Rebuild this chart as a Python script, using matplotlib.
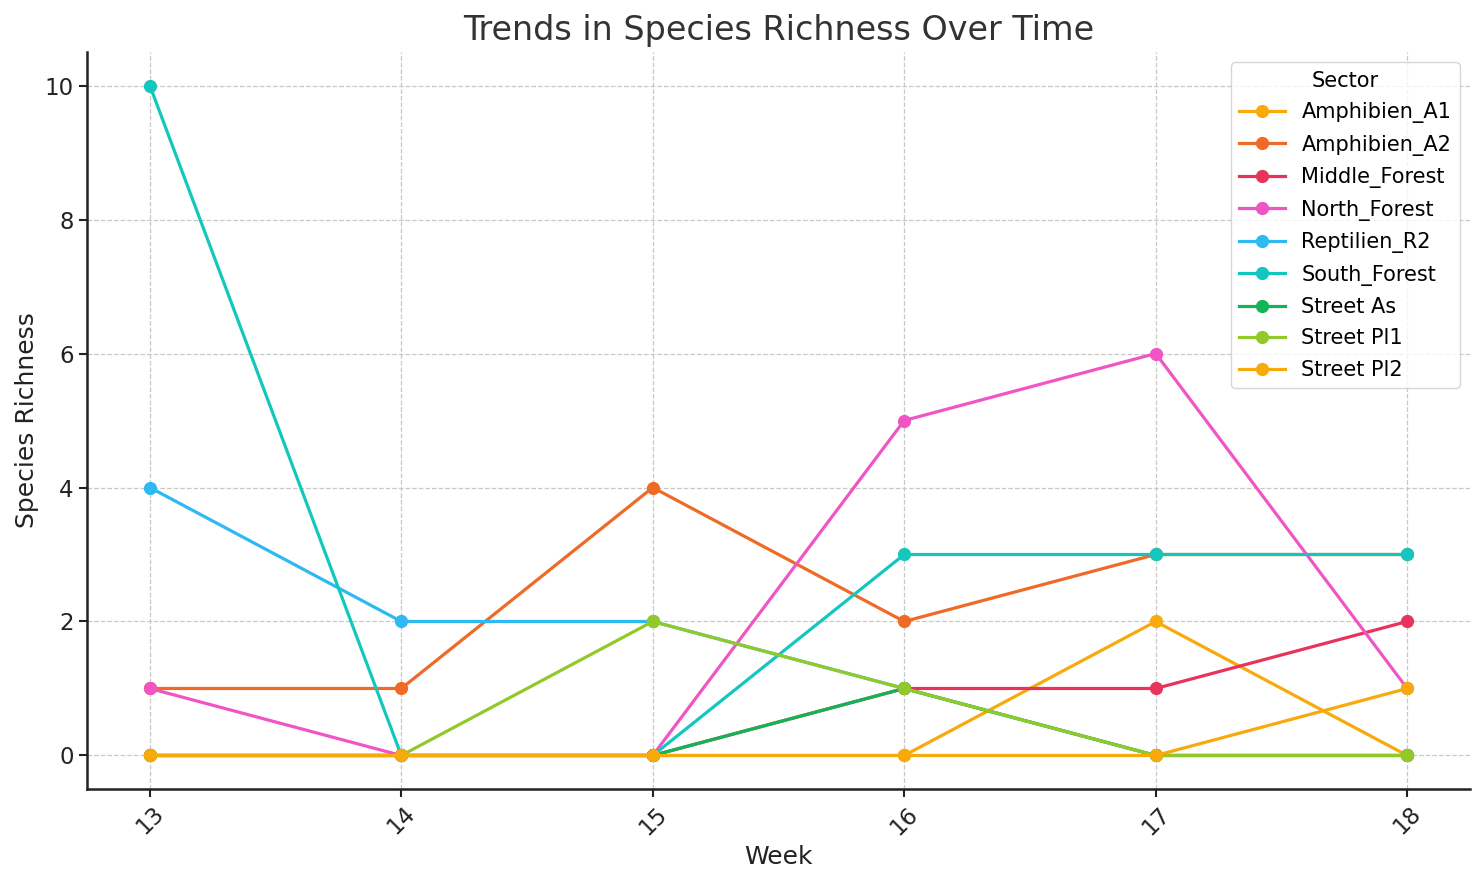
import matplotlib
matplotlib.use("Agg")
import matplotlib.pyplot as plt
import numpy as np

weeks = [13, 14, 15, 16, 17, 18]
sectors = ["Amphibien_A1", "Amphibien_A2", "Middle_Forest", "North_Forest",
           "Reptilien_R2", "South_Forest", "Street As", "Street Pl1", "Street Pl2"]
amphibien_a1 = [0, 0, 0, 0, 2, 0]
amphibien_a2 = [1, 1, 4, 2, 3, 3]
middle_forest = [0, 0, 0, 1, 1, 2]
north_forest = [1, 0, 0, 5, 6, 1]
reptilien_r2 = [4, 2, 2, 1, 0, 0]
south_forest = [10, 0, 0, 3, 3, 3]
street_as = [0, 0, 0, 1, 0, 0]
street_pl1 = [0, 0, 2, 1, 0, 0]
street_pl2 = [0, 0, 0, 0, 0, 1]
series = [amphibien_a1, amphibien_a2, middle_forest, north_forest, reptilien_r2,
          south_forest, street_as, street_pl1, street_pl2]
colors = ["#F8A90C", "#EF6A26", "#E8335A", "#F055C4", "#2EB9F2",
          "#14C7BE", "#12B556", "#92C92A", "#F8A90C"]

fig = plt.figure(figsize=(14.84, 8.85), dpi=100)
ax = fig.add_axes([0.0586, 0.1085, 0.932, 0.8327])
for name, vals, c in zip(sectors, series, colors):
    ax.plot(weeks, vals, marker="o", markersize=8.5, linewidth=2.3, color=c, label=name)

ax.set_title("Trends in Species Richness Over Time", fontsize=24, color="#333333", pad=9)
ax.set_xlabel("Week", fontsize=18, color="#222222")
ax.set_ylabel("Species Richness", fontsize=18, color="#222222")
ax.set_xticks(weeks)
ax.set_xticklabels([str(w) for w in weeks], rotation=45, fontsize=16.5, color="#222222")
ax.set_yticks([0, 2, 4, 6, 8, 10])
ax.tick_params(axis="y", labelsize=16.5, labelcolor="#222222")
ax.tick_params(axis="both", width=1.5, length=6, color="#222222")
ax.grid(True, linestyle="--", color="#c8c8c8", linewidth=0.9)
for s in ["top", "right"]:
    ax.spines[s].set_visible(False)
ax.spines["left"].set_linewidth(1.8)
ax.spines["bottom"].set_linewidth(1.8)
ax.spines["left"].set_color("#222222")
ax.spines["bottom"].set_color("#222222")
leg = ax.legend(title="Sector", loc="upper right", fontsize=15, title_fontsize=15,
                frameon=True, borderpad=0.4, labelspacing=0.55, handlelength=2.2)
leg.get_frame().set_edgecolor("#cccccc")
fig.savefig("out.png", dpi=100)
